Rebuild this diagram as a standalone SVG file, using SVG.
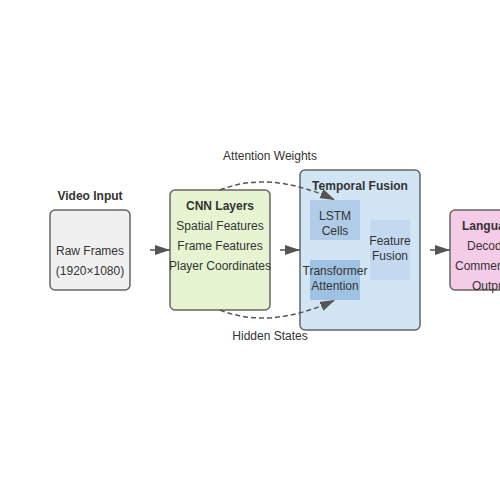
<svg xmlns="http://www.w3.org/2000/svg" width="500" height="500" viewBox="0 0 500 500">
<defs>
<style>
text{font-family:"Liberation Sans",Arial,sans-serif;font-size:12px;fill:#333}
.t{font-weight:bold}
.m{text-anchor:middle}
.box{stroke:#666;stroke-width:1.5}
.link{stroke:#555;stroke-width:1.5;fill:none}
.dash{stroke:#555;stroke-width:1.5;fill:none;stroke-dasharray:5,3}
</style>
<marker id="ah2" viewBox="0 0 10 10" refX="10" refY="5" markerWidth="15" markerHeight="10" markerUnits="userSpaceOnUse" orient="auto" preserveAspectRatio="none">
<path d="M0,0 L10,5 L0,10 Z" fill="#555"/>
</marker>
</defs>
<rect width="500" height="500" fill="#fff"/>
<g id="video">
<text class="t m" x="90" y="200">Video Input</text>
<rect class="box" x="50" y="210" width="80" height="80" rx="5" fill="#f0f0f0"/>
<text class="m" x="90" y="255">Raw Frames</text>
<text class="m" x="90" y="275">(1920×1080)</text>
</g>
<g id="cnn">
<rect class="box" x="170" y="190" width="100" height="120" rx="5" fill="#e6f4d2"/>
<text class="t m" x="220" y="210">CNN Layers</text>
<text class="m" x="220" y="230">Spatial Features</text>
<text class="m" x="220" y="250">Frame Features</text>
<text class="m" x="220" y="270">Player Coordinates</text>
</g>
<g id="temporal">
<rect class="box" x="300" y="170" width="120" height="160" rx="5" fill="#d2e5f4"/>
<text class="t m" x="360" y="190">Temporal Fusion</text>
<rect x="310" y="200" width="50" height="40" fill="#b0cce6"/>
<text class="m" x="335" y="220">LSTM</text>
<text class="m" x="335" y="235">Cells</text>
<rect x="310" y="260" width="50" height="40" fill="#9fc2e3"/>
<text class="m" x="335" y="275">Transformer</text>
<text class="m" x="335" y="290">Attention</text>
<rect x="370" y="220" width="40" height="60" fill="#c4d9ef"/>
<text class="m" x="390" y="245">Feature</text>
<text class="m" x="390" y="260">Fusion</text>
</g>
<g id="language">
<rect class="box" x="450" y="210" width="100" height="80" rx="5" fill="#f5cce8"/>
<text class="t" x="462" y="230">Language Model</text>
<text x="467" y="250">Decoder Layers</text>
<text x="455" y="270">Commentary Generation</text>
<text x="472" y="290">Output Text</text>
</g>
<g id="connectors">
<line class="link" x1="150" y1="250" x2="170" y2="250" marker-end="url(#ah2)"/>
<line class="link" x1="280" y1="250" x2="300" y2="250" marker-end="url(#ah2)"/>
<line class="link" x1="430" y1="250" x2="450" y2="250" marker-end="url(#ah2)"/>
<path class="dash" d="M220,190 Q270,170 335,200" marker-end="url(#ah2)"/>
<path class="dash" d="M220,310 Q270,330 335,300" marker-end="url(#ah2)"/>
<text class="m" x="270" y="160">Attention Weights</text>
<text class="m" x="270" y="340">Hidden States</text>
</g>
</svg>
